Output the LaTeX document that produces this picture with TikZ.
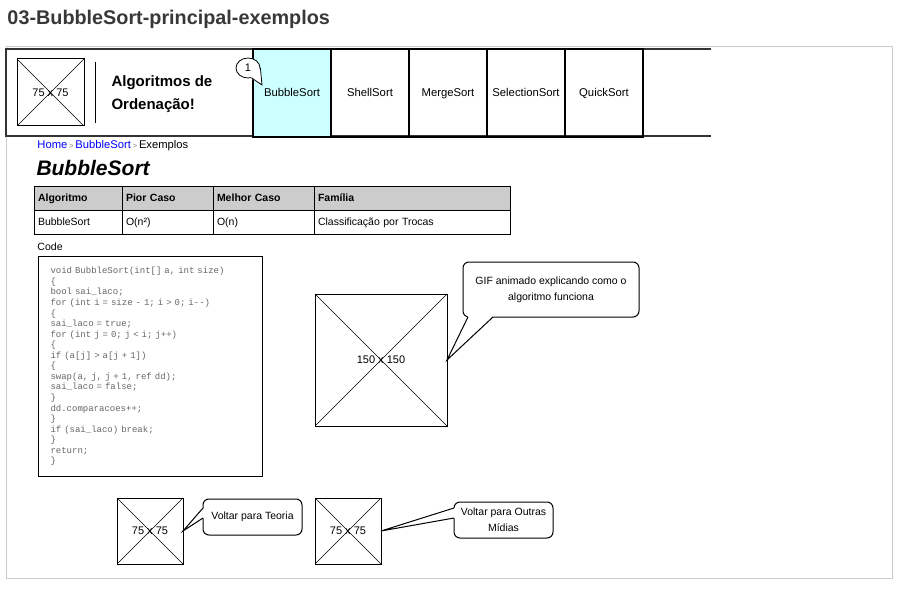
\documentclass[tikz,border=0pt]{standalone}
\usepackage{fontspec}
\setmainfont{Liberation Sans}
\newfontfamily\codefont{Liberation Mono}[WordSpace={1,0,0}]
\usepackage{tikz}
\usetikzlibrary{shapes.geometric, positioning, calc}

\definecolor{framegray}{HTML}{CCCCCC}
\definecolor{tabcyan}{HTML}{CCFFFF}
\definecolor{linkblue}{HTML}{0000FF}
\definecolor{codegray}{HTML}{666666}
\definecolor{headfill}{HTML}{CCCCCC}
\definecolor{titlegray}{HTML}{383838}
\newcommand{\fsz}[2]{\fontsize{#1}{#2}\selectfont}

\begin{document}
\begin{tikzpicture}[x=1pt,y=-1pt,line width=1pt,
  img/.style={draw,minimum size=#1,inner sep=0pt,outer sep=0pt,anchor=north west,font=\fsz{11}{13},path picture={\draw[line width=0.6pt] (path picture bounding box.north west) -- (path picture bounding box.south east) (path picture bounding box.north east) -- (path picture bounding box.south west);}},
  tab/.style={draw,line width=1.2pt,minimum width=78pt,minimum height=88pt,text height=8pt,text depth=2pt,inner sep=0pt,outer sep=0pt,anchor=north west,font=\fsz{11.3}{13}},
  hcell/.style={draw,fill=headfill,text width=#1,minimum height=24pt,text height=8pt,text depth=2pt,inner xsep=4pt,outer sep=0pt,anchor=north west,align=left,font=\bfseries\fsz{10.5}{13}},
  cell/.style={draw,text width=#1,minimum height=24pt,text height=8pt,text depth=2pt,inner xsep=4pt,outer sep=0pt,anchor=north west,align=left,font=\fsz{10.5}{13}},
  callout/.style={draw,fill=white,rounded corners=6pt,anchor=north west,align=center,inner sep=2pt,outer sep=0pt,font=\fsz{10.5}{16}},
  plain/.style={inner sep=0pt,anchor=west}]
  \useasboundingbox (0,0) rectangle (906,594);
  \node[plain,font=\bfseries\fsz{19.8}{20},text=titlegray] (pagename) at (7,19) {03-BubbleSort-principal-exemplos};
  \draw[framegray] (6,47) rectangle (892,578);
  \draw[line width=2pt,black!80] (711,49) -- (6,49) -- (6,136) -- (711,136);
  \node[img=67pt] (logo) at (17,59) {75 x 75};
  \draw[line width=0.8pt] (95,62) -- (95,123);
  \node[plain,align=left,font=\bfseries\fsz{15}{23}] (brand) at (111,94) {Algoritmos de\\Ordenação!};
  \node[tab,fill=tabcyan] (tbubble) at (253,49) {BubbleSort};
  \node[tab,right=0pt of tbubble] (tshell) {ShellSort};
  \node[tab,right=0pt of tshell] (tmerge) {MergeSort};
  \node[tab,right=0pt of tmerge] (tselect) {SelectionSort};
  \node[tab,right=0pt of tselect] (tquick) {QuickSort};
  \node[ellipse,draw,fill=white,line width=0.8pt,inner sep=0pt,minimum width=24pt,minimum height=20pt,font=\fsz{11}{11}] (badge) at (248,68) {1};
  \coordinate (badgetip) at (262,85);
  \fill[white] (badge.0) -- (badgetip) -- (badge.-75) -- cycle;
  \draw[line width=0.8pt] (badge.0) -- (badgetip) -- (badge.-70);
  \node[plain,font=\fsz{11.2}{13}] (crumb) at (37,146) {\textcolor{linkblue}{Home}\,\textcolor{gray}{\fsz{7.5}{7.5}>}\,\textcolor{linkblue}{BubbleSort}\,\textcolor{gray}{\fsz{7.5}{7.5}>}\,Exemplos};
  \node[plain,font=\bfseries\itshape\fsz{21}{21}] (pagetitle) at (36,168) {BubbleSort};
  \node[hcell=80pt] (halg) at (34,186) {Algoritmo};
  \node[hcell=83pt,right=0pt of halg] (hworst) {Pior Caso};
  \node[hcell=93pt,right=0pt of hworst] (hbest) {Melhor Caso};
  \node[hcell=188pt,right=0pt of hbest] (hfamily) {Família};
  \node[cell=80pt,below=0pt of halg] (valg) {BubbleSort};
  \node[cell=83pt,right=0pt of valg] (vworst) {O(n²)};
  \node[cell=93pt,right=0pt of vworst] (vbest) {O(n)};
  \node[cell=188pt,right=0pt of vbest] (vfamily) {Classificação por Trocas};
  \node[plain,font=\fsz{10.5}{13}] (codelabel) at (37,247) {Code};
  \node[draw,anchor=north west,minimum width=224pt,minimum height=220pt,text width=200pt,inner xsep=12pt,align=left,text=codegray,font=\codefont\fsz{9}{10.55}] (code) at (38,256) {void BubbleSort(int[] a, int size)\\
\{\\
bool sai\_laco;\\
for (int i = size - 1; i > 0; i--)\\
\{\\
sai\_laco = true;\\
for (int j = 0; j < i; j++)\\
\{\\
if (a[j] > a[j + 1])\\
\{\\
swap(a, j, j + 1, ref dd);\\
sai\_laco = false;\\
\}\\
dd.comparacoes++;\\
\}\\
if (sai\_laco) break;\\
\}\\
return;\\
\}};
  \node[img=132pt] (gif) at (315,294) {150 x 150};
  \node[callout,minimum width=176pt,minimum height=55pt] (gifnote) at (463,262) {GIF animado explicando como o\\algoritmo funciona};
  \fill[white] ($(gifnote.south west)+(5,-0.8)$) -- (gif.east) -- ($(gifnote.south west)+(30,-0.8)$) -- cycle;
  \draw ($(gifnote.south west)+(5,0)$) -- (gif.east) -- ($(gifnote.south west)+(30,0)$);
  \node[img=66pt] (teoimg) at (117,498) {75 x 75};
  \node[callout,minimum width=99pt,minimum height=36pt] (teonote) at (203,499) {Voltar para Teoria};
  \fill[white] ($(teonote.north west)+(0.8,9)$) -- (teoimg.east) -- ($(teonote.north west)+(0.8,19)$) -- cycle;
  \draw ($(teonote.north west)+(0,9)$) -- (teoimg.east) -- ($(teonote.north west)+(0,19)$);
  \node[img=66pt] (midimg) at (315,498) {75 x 75};
  \node[callout,minimum width=99pt,minimum height=36pt] (midnote) at (454,502) {Voltar para Outras\\Mídias};
  \fill[white] ($(midnote.north west)+(0.8,6)$) -- (midimg.east) -- ($(midnote.north west)+(0.8,16)$) -- cycle;
  \draw ($(midnote.north west)+(0,6)$) -- (midimg.east) -- ($(midnote.north west)+(0,16)$);
\end{tikzpicture}
\end{document}
